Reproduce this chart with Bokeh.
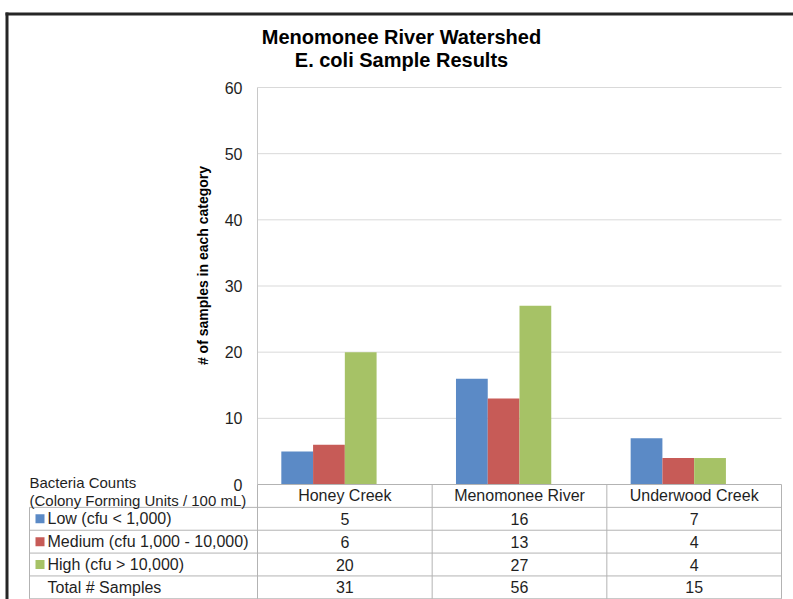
import math
from bokeh.plotting import figure
from bokeh.models import Range1d, LinearAxis, FixedTicker, ColumnDataSource
from bokeh.core.properties import value
from bokeh.transform import dodge
from bokeh.embed import file_html
from bokeh.resources import INLINE

# ---------------- data ----------------
TITLE = ["Menomonee River Watershed", "E. coli Sample Results"]
SITES = ["Honey Creek", "Menomonee River", "Underwood Creek"]
SERIES = ["Low (cfu < 1,000)", "Medium (cfu 1,000 - 10,000)", "High (cfu > 10,000)"]
LOW = [5, 16, 7]
MEDIUM = [6, 13, 4]
HIGH = [20, 27, 4]
TOTAL = [31, 56, 15]
TOTAL_LABEL = "Total # Samples"
Y_TICKS = [0, 10, 20, 30, 40, 50, 60]
Y_TITLE = "# of samples in each category"
TABLE_HEAD = ["Bacteria Counts", "(Colony Forming Units / 100 mL)"]
COLORS = ["#5B8AC6", "#C75B57", "#A6C266"]

# ---------------- layout ----------------
FONT = value("Liberation Sans")
TXT = "#1f1f1f"
GRID = "#d9d9d9"
TLINE = "#b3b3b3"

W, H, M = 793, 599, 0
PL, PR, PT, PB = 257, 781, 87, 484        # plot area in page pixels
n = len(SITES)
XS = n / (PR - PL)
YS = (Y_TICKS[-1] - Y_TICKS[0]) / (PB - PT)


def px_x(px):
    return (px - PL) * XS


def px_y(py):
    return (PB - py) * YS


p = figure(width=W, height=H,
           x_range=Range1d(px_x(M), px_x(M + W)),
           y_range=Range1d(px_y(M + H), px_y(M)),
           output_backend="svg", toolbar_location=None,
           x_axis_location=None, y_axis_location=None, title_location=None,
           min_border=0, outline_line_color=None,
           background_fill_color="white", border_fill_color="white")
p.grid.visible = False

# ---- axes (fixed inside the frame) ----
yax = LinearAxis(ticker=FixedTicker(ticks=Y_TICKS), fixed_location=0,
                 bounds=(Y_TICKS[0], Y_TICKS[-1]),
                 axis_line_color=None, major_tick_line_color=None,
                 minor_tick_line_color=None, major_tick_out=0, major_tick_in=0,
                 major_label_standoff=15,
                 major_label_text_font="Liberation Sans",
                 major_label_text_font_size="16px",
                 major_label_text_color=TXT)
p.add_layout(yax, "left")

centers = [i + 0.5 for i in range(n)]
xax = LinearAxis(ticker=FixedTicker(ticks=centers), fixed_location=0,
                 major_label_overrides={c: s for c, s in zip(centers, SITES)},
                 axis_line_color=None, major_tick_line_color=None,
                 minor_tick_line_color=None, major_tick_out=0, major_tick_in=0,
                 major_label_standoff=2,
                 major_label_text_font="Liberation Sans",
                 major_label_text_font_size="16px",
                 major_label_text_color=TXT)
p.add_layout(xax, "below")

# ---- gridlines & plot-area left line ----
gt = [t for t in Y_TICKS if t > Y_TICKS[0]]
p.segment(x0=0, x1=n, y0=gt, y1=gt, line_color=GRID, line_width=1)
p.segment(x0=[0], x1=[0], y0=[Y_TICKS[-1]], y1=[0], line_color="#c8c8c8", line_width=1)

# ---- bars (4 slots: the Total series is unfilled) ----
src = ColumnDataSource(dict(x=centers, low=LOW, medium=MEDIUM, high=HIGH, total=TOTAL))
slots = len(SERIES) + 1
BAR_W = 1 / (slots + 1.5)
for j, (col, color) in enumerate(zip(["low", "medium", "high"], COLORS)):
    off = (j - (slots - 1) / 2) * BAR_W
    p.vbar(x=dodge("x", off, range=p.x_range), top=col, bottom=0, width=BAR_W,
           fill_color=color, line_color=None, source=src)

# ---- data table ----
ROW_H = (598.3 - PB) / 5
rows_y = [px_y(PB + k * ROW_H) for k in range(6)]
LX = px_x(29)
p.segment(x0=[0] + [LX] * 5, x1=[n] * 6, y0=rows_y, y1=rows_y,
          line_color=TLINE, line_width=1)
vx = [LX] + list(range(n + 1))
p.segment(x0=vx, x1=vx, y0=[rows_y[1]] + [rows_y[0]] * (n + 1),
          y1=[rows_y[5]] * (n + 2), line_color=TLINE, line_width=1)

row_c = [(rows_y[k] + rows_y[k + 1]) / 2 for k in range(1, 5)]
p.scatter(x=px_x(39.5), y=row_c[:3], marker="square", size=9,
          fill_color=COLORS, line_color=None)
p.text(x=px_x(47), y=row_c, text=SERIES + [TOTAL_LABEL],
       text_font=FONT, text_font_size="16px", text_color=TXT,
       text_align="left", text_baseline="middle")

vals = [LOW, MEDIUM, HIGH, TOTAL]
tx, ty, tt = [], [], []
for k, row in enumerate(vals):
    for i, v in enumerate(row):
        tx.append(centers[i])
        ty.append(row_c[k])
        tt.append(str(v))
p.text(x=tx, y=ty, text=tt, text_font=FONT, text_font_size="16px",
       text_color=TXT, text_align="center", text_baseline="middle")

p.text(x=LX, y=[px_y(481.5), px_y(499.5)], text=TABLE_HEAD,
       text_font=FONT, text_font_size="15px", text_color=TXT,
       text_align="left", text_baseline="middle")

# ---- titles ----
p.text(x=px_x(401), y=[px_y(36), px_y(59)], text=TITLE,
       text_font=FONT, text_font_size="20px", text_font_style="bold",
       text_color="black", text_align="center", text_baseline="middle")
p.text(x=px_x(202.5), y=px_y(265), text=[Y_TITLE], angle=math.pi / 2,
       text_font=FONT, text_font_size="14px", text_font_style="bold",
       text_color="black", text_align="center", text_baseline="middle")

# ---- outer frame (left and top edges) ----
p.segment(x0=[px_x(6.5), px_x(5)], x1=[px_x(6.5), px_x(M + W)],
          y0=[px_y(12), px_y(13.5)], y1=[px_y(M + H), px_y(13.5)],
          line_color="#262626", line_width=3)

open("out.html", "w").write(file_html(p, INLINE))
